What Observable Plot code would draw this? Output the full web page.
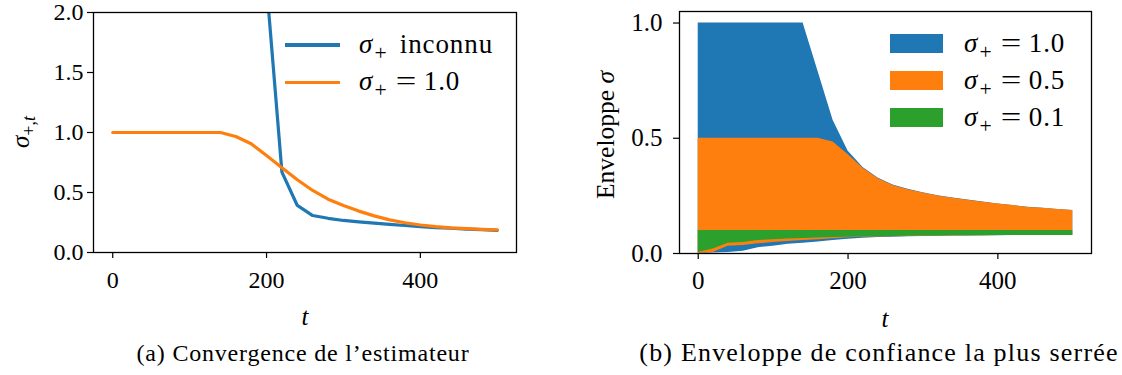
<!DOCTYPE html>
<html><head><meta charset="utf-8">
<script src="https://cdn.jsdelivr.net/npm/d3@7"></script>
<script src="https://cdn.jsdelivr.net/npm/@observablehq/plot@0.6"></script>
<style>
body{margin:0;background:#fff;}
#wrap{position:relative;width:1122px;height:375px;font-family:"Liberation Serif","DejaVu Serif",serif;color:#000;overflow:hidden;}
.panel{position:absolute;top:0;}
.lbl{position:absolute;font-size:24px;white-space:nowrap;line-height:1;}
.lbl sub{font-size:72%;vertical-align:-0.35em;line-height:0;}
.lg i{margin-right:0.05em;}
.lg sub{font-size:80%;}
.lg .eq{display:inline-block;width:0.78em;text-align:center;transform:scaleX(1.35);margin:0 0.24em 0 0.32em;}
.lg .wd{margin-left:0.45em;}
.sw{position:absolute;}
</style>
</head><body>
<div id="wrap"></div>
<script>
// ---- data ----
const t = [0,20,40,60,80,100,120,140,160,180,200,220,240,260,280,300,320,340,360,380,400,420,440,460,480,500];
const sigmaKnown = [1,1,1,1,1,1,1,1,0.967,0.906,0.808,0.706,0.606,0.517,0.444,0.392,0.345,0.305,0.272,0.248,0.229,0.216,0.206,0.199,0.193,0.189];
const tUnknown = [200,220,240,260,280,300,320,340,360,380,400,420,440,460,480,500];
const sigmaUnknown = [2.23,0.67,0.392,0.308,0.285,0.267,0.255,0.245,0.234,0.225,0.215,0.208,0.202,0.195,0.19,0.185];

const upper10 = [1,1,1,1,1,1,1,1,0.79,0.578,0.445,0.373,0.328,0.297,0.279,0.264,0.251,0.241,0.232,0.223,0.215,0.208,0.201,0.196,0.191,0.187];
const lower10 = [0,0.002,0.004,0.01,0.025,0.032,0.04,0.045,0.05,0.056,0.062,0.066,0.069,0.071,0.073,0.074,0.075,0.076,0.076,0.077,0.077,0.078,0.078,0.078,0.079,0.079];
const upper05 = [0.5,0.5,0.5,0.5,0.5,0.5,0.5,0.5,0.5,0.484,0.43,0.37,0.325,0.295,0.277,0.262,0.25,0.24,0.231,0.222,0.215,0.208,0.2,0.196,0.191,0.187];
const lower05 = [0,0.004,0.032,0.035,0.042,0.048,0.052,0.056,0.06,0.064,0.068,0.07,0.072,0.073,0.074,0.075,0.076,0.076,0.077,0.077,0.078,0.078,0.078,0.079,0.079,0.079];
const upper01 = [0.1,0.1,0.1,0.1,0.1,0.1,0.1,0.1,0.1,0.1,0.1,0.1,0.1,0.1,0.1,0.1,0.1,0.1,0.1,0.1,0.1,0.1,0.1,0.1,0.1,0.1];
const lower01 = [0.004,0.02,0.045,0.048,0.056,0.06,0.063,0.065,0.067,0.069,0.071,0.072,0.073,0.074,0.075,0.076,0.076,0.077,0.077,0.077,0.078,0.078,0.078,0.078,0.078,0.078];

const xTicks = [0,200,400];
const yTicksLeft = [0,0.5,1,1.5,2];
const yTicksRight = [0,0.5,1];

const C = {blue:"#1f77b4", orange:"#ff7f0e", green:"#2ca02c"};

// ---- tables ----
const known = t.map((x,i)=>({t:x, v:sigmaKnown[i]}));
const unknown = tUnknown.map((x,i)=>({t:x, v:sigmaUnknown[i]}));
const bands = [
  {name:"1.0", color:C.blue, lo:lower10, hi:upper10},
  {name:"0.5", color:C.orange, lo:lower05, hi:upper05},
  {name:"0.1", color:C.green, lo:lower01, hi:upper01}
];

const wrap = document.getElementById("wrap");
const font = (fs)=>({fontFamily:"'Liberation Serif', 'DejaVu Serif', serif", fontSize:fs, color:"black", background:"transparent", overflow:"visible"});

function axes(yTicks, yPad){
  return [
    Plot.axisX({ticks:xTicks, tickSize:6, tickPadding:12, label:null, tickFormat:d=>String(d), strokeWidth:1.2}),
    Plot.axisY({ticks:yTicks, tickSize:6, tickPadding:yPad, label:null, tickFormat:d3.format(".1f"), strokeWidth:1.2}),
    Plot.frame({stroke:"black", strokeWidth:1.3})
  ];
}

// Left panel
const left = Plot.plot({
  width:530, height:300, marginLeft:93, marginRight:14, marginTop:12, marginBottom:48,
  style:font("24px"),
  x:{domain:[-25,525]},
  y:{domain:[0,2]},
  marks:[
    Plot.line(unknown, {x:"t", y:"v", stroke:C.blue, strokeWidth:3.2, clip:true}),
    Plot.line(known, {x:"t", y:"v", stroke:C.orange, strokeWidth:3.2, clip:true}),
    ...axes(yTicksLeft, 4)
  ]
});
left.classList.add("panel"); left.style.left="0px";
wrap.appendChild(left);

// Right panel
const rightMarks = [];
for (const b of bands) {
  const rows = t.map((x,i)=>({t:x, lo:b.lo[i], hi:b.hi[i]}));
  rightMarks.push(Plot.areaY(rows, {x:"t", y1:"lo", y2:"hi", fill:b.color}));
}
const right = Plot.plot({
  width:562, height:300, marginLeft:119, marginRight:31, marginTop:11, marginBottom:47,
  style:font("25px"),
  x:{domain:[-25,525]},
  y:{domain:[0,1.05]},
  marks:[...rightMarks, ...axes(yTicksRight, 11)]
});
right.classList.add("panel"); right.style.left="560px";
wrap.appendChild(right);

// ---- text overlays ----
function lbl(html, x, y, opt={}){
  const d = document.createElement("div");
  d.className = "lbl" + (opt.cls ? " " + opt.cls : "");
  d.innerHTML = html;
  d.style.left = x+"px"; d.style.top = y+"px";
  let tr = opt.anchor==="start" ? "translate(0,-50%)" : "translate(-50%,-50%)";
  if (opt.rotate) tr += " rotate(-90deg)";
  d.style.transform = tr;
  if (opt.ls) d.style.letterSpacing = opt.ls;
  if (opt.fs) d.style.fontSize = opt.fs;
  wrap.appendChild(d);
}
function sw(x,y,w,h,color){
  const d = document.createElement("div");
  d.className="sw";
  Object.assign(d.style,{left:x+"px",top:y+"px",width:w+"px",height:h+"px",background:color});
  wrap.appendChild(d);
}
const sig = '<i>σ</i><sub>+</sub>';
const eq = v => sig + '<span class="eq">=</span>' + v;
const lg = {anchor:"start", fs:"27px", ls:"0.9px", cls:"lg"};
lbl('<i>σ</i><sub>+,<i>t</i></sub>', 20, 132, {rotate:true, fs:"25px"});
lbl('Enveloppe <i>σ</i>', 606, 135, {rotate:true, fs:"25.5px"});
lbl('<i>t</i>', 305, 316, {fs:"25px"});
lbl('<i>t</i>', 885, 318, {fs:"25px"});
lbl("(a) Convergence de l’estimateur", 303, 353, {ls:"0.8px"});
lbl("(b) Enveloppe de confiance la plus serrée", 879, 353, {ls:"1.2px", fs:"26px"});

sw(285, 43, 55, 3.5, C.blue);
sw(285, 80.5, 55, 3.5, C.orange);
lbl(sig + '<span class="wd">inconnu</span>', 359, 44, lg);
lbl(eq('1.0'), 359, 81, lg);

sw(890, 34, 53, 19, C.blue);
sw(890, 71, 53, 19, C.orange);
sw(890, 108, 53, 19, C.green);
lbl(eq('1.0'), 964, 43, lg);
lbl(eq('0.5'), 964, 80, lg);
lbl(eq('0.1'), 964, 117, lg);
</script>
</body></html>
